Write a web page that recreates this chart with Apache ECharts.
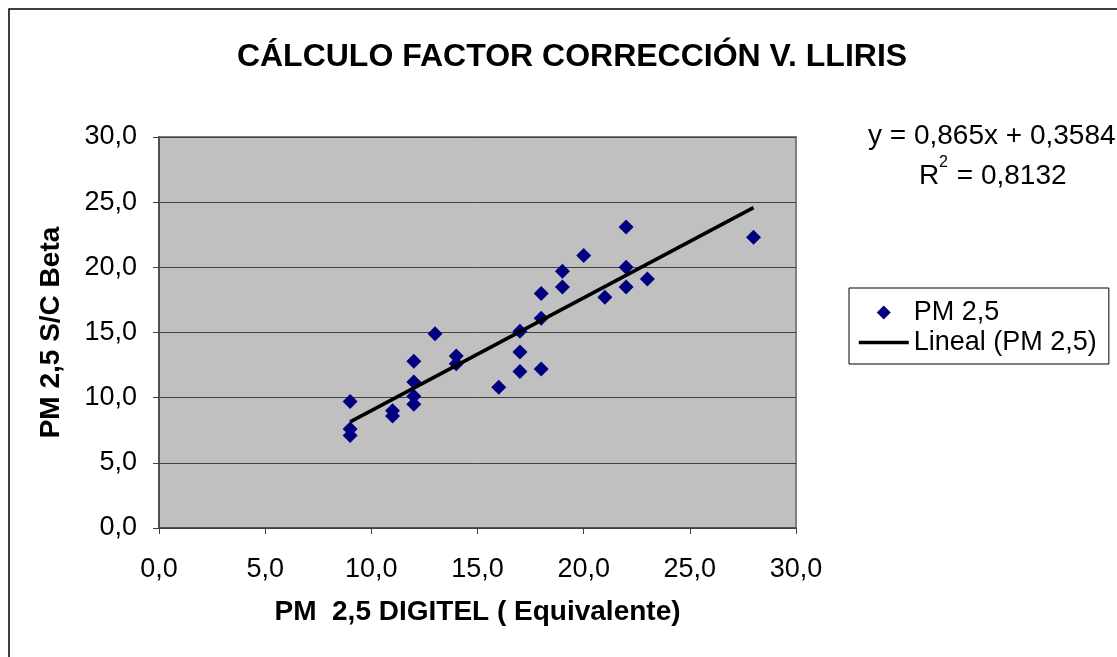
<!DOCTYPE html>
<html>
<head>
<meta charset="utf-8">
<script src="https://cdn.jsdelivr.net/npm/echarts@6/dist/echarts.min.js"></script>
<style>
  html, body { margin: 0; padding: 0; background: #fff; }
  #chart { width: 1117px; height: 657px; }
</style>
</head>
<body>
<div id="chart"></div>
<script>
// Data
const digitel = [9, 9, 9, 11, 11, 12, 12, 12, 12, 13, 14, 14, 16, 17, 17, 17, 18, 18, 18, 19, 19, 20, 21, 22, 22, 22, 23, 28];
const beta = [7.6, 7.1, 9.7, 9.0, 8.6, 12.8, 11.2, 10.1, 9.5, 14.9, 13.2, 12.6, 10.8, 15.1, 13.5, 12.0, 18.0, 16.1, 12.2, 19.7, 18.5, 20.9, 17.7, 23.1, 20.0, 18.5, 19.1, 22.3];
const slope = 0.865;
const intercept = 0.3584;
const axisTicks = [0, 5, 10, 15, 20, 25, 30];

const FONT = "'Liberation Sans', Arial, sans-serif";
const fmt = (v) => v.toFixed(1).replace(".", ",");

const points = digitel.map((x, i) => [x, beta[i]]);
const xMin = Math.min(...digitel);
const xMax = Math.max(...digitel);
const trend = [xMin, xMax].map((x) => [x, slope * x + intercept]);

// legend icon: invisible corners keep the 50x14 box so the diamond isn't stretched
const diamondIcon = "path://M0,0 M50,14 M25,0 L32,7 L25,14 L18,7 Z";

const chart = echarts.init(document.getElementById("chart"));

chart.setOption({
  animation: false,
  backgroundColor: "#fff",
  textStyle: { fontFamily: FONT },
  title: {
    text: "CÁLCULO FACTOR CORRECCIÓN V. LLIRIS",
    left: 567,
    top: 36,
    textAlign: "center",
    textStyle: { fontFamily: FONT, fontSize: 32, fontWeight: "bold", color: "#000" },
  },
  grid: {
    left: 159,
    top: 137,
    right: 321,
    bottom: 129,
    show: true,
    backgroundColor: "#C0C0C0",
    borderColor: "#808080",
    borderWidth: 2,
  },
  legend: {
    orient: "vertical",
    left: 849,
    top: 288,
    padding: [11, 12, 8, 8],
    itemGap: 3,
    itemWidth: 50,
    itemHeight: 14,
    borderColor: "#000",
    borderWidth: 1,
    textStyle: { fontFamily: FONT, fontSize: 27, color: "#000" },
    data: [
      { name: "PM 2,5", icon: diamondIcon },
      {
        name: "Lineal (PM 2,5)",
        itemStyle: { color: "rgba(0,0,0,0)", borderWidth: 0 },
        lineStyle: { color: "#000", width: 3.5 },
      },
    ],
  },
  xAxis: {
    type: "value",
    min: axisTicks[0],
    max: axisTicks[axisTicks.length - 1],
    interval: 5,
    name: "PM  2,5 DIGITEL ( Equivalente)",
    nameLocation: "middle",
    nameGap: 70,
    nameTextStyle: { fontFamily: FONT, fontSize: 28, fontWeight: "bold", color: "#000" },
    axisLine: { lineStyle: { color: "#404040", width: 1.5 } },
    axisTick: { show: true, inside: false, length: 6, lineStyle: { color: "#404040" } },
    axisLabel: { formatter: fmt, fontFamily: FONT, fontSize: 27, color: "#000", margin: 28 },
    splitLine: { show: false },
  },
  yAxis: {
    type: "value",
    min: axisTicks[0],
    max: axisTicks[axisTicks.length - 1],
    interval: 5,
    name: "PM 2,5 S/C Beta",
    nameLocation: "middle",
    nameGap: 94,
    nameTextStyle: { fontFamily: FONT, fontSize: 28, fontWeight: "bold", color: "#000" },
    axisLine: { show: true, lineStyle: { color: "#404040", width: 1.5 } },
    axisTick: { show: true, inside: false, length: 6, lineStyle: { color: "#404040" } },
    axisLabel: { formatter: fmt, fontFamily: FONT, fontSize: 27, color: "#000", margin: 22 },
    splitLine: { show: true, lineStyle: { color: "#404040", width: 1 } },
  },
  series: [
    {
      name: "PM 2,5",
      type: "scatter",
      symbol: "diamond",
      symbolSize: 15,
      itemStyle: { color: "#000080", opacity: 1 },
      data: points,
      z: 2,
    },
    {
      name: "Lineal (PM 2,5)",
      type: "line",
      symbol: "none",
      lineStyle: { color: "#000", width: 3.5 },
      itemStyle: { color: "#000" },
      data: trend,
      z: 3,
    },
  ],
  graphic: [
    {
      type: "rect",
      shape: { x: 9, y: 9, width: 1300, height: 900 },
      style: { fill: "none", stroke: "#000", lineWidth: 1.5 },
      silent: true,
    },
    {
      type: "text",
      x: 868,
      y: 136,
      style: { text: "y = 0,865x + 0,3584", font: "28px " + FONT, fill: "#000", verticalAlign: "middle", textAlign: "left" },
    },
    {
      type: "text",
      x: 919,
      y: 176,
      style: { text: "R", font: "28px " + FONT, fill: "#000", verticalAlign: "middle", textAlign: "left" },
    },
    {
      type: "text",
      x: 939,
      y: 171,
      style: { text: "2", font: "16px " + FONT, fill: "#000", verticalAlign: "bottom", textAlign: "left" },
    },
    {
      type: "text",
      x: 949,
      y: 176,
      style: { text: " = 0,8132", font: "28px " + FONT, fill: "#000", verticalAlign: "middle", textAlign: "left" },
    },
  ],
});
</script>
</body>
</html>
